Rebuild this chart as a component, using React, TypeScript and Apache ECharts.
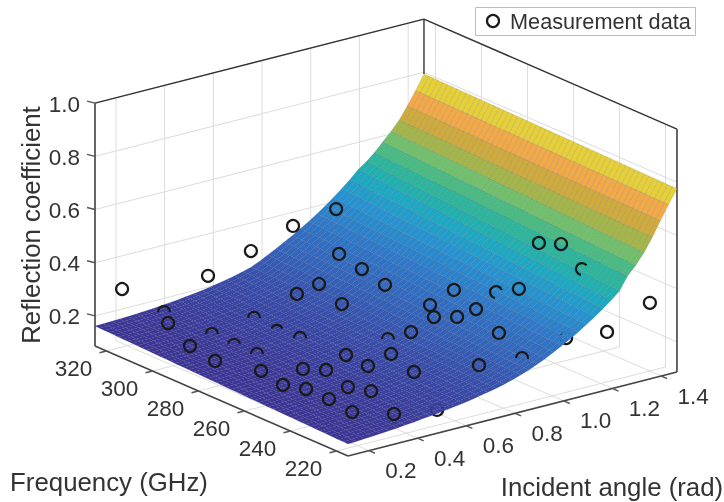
import React, { useEffect, useRef } from "react";
import * as echarts from "echarts";

const angleTicks = [0.2, 0.4, 0.6, 0.8, 1.0, 1.2, 1.4];
const freqTicks = [220, 240, 260, 280, 300, 320];
const reflTicks = [0.2, 0.4, 0.6, 0.8, 1.0];

const surfaceAngles = [0.114,0.148,0.182,0.215,0.249,0.283,0.317,0.350,0.384,0.418,0.452,0.486,0.519,0.553,0.587,0.621,0.654,0.688,0.722,0.756,0.790,0.823,0.857,0.891,0.925,0.958,0.992,1.026,1.060,1.093,1.127,1.161,1.195,1.229,1.262,1.296,1.330,1.364,1.397,1.431,1.465];
const reflAt215 = [0.132,0.134,0.136,0.138,0.140,0.142,0.145,0.148,0.151,0.155,0.158,0.162,0.166,0.170,0.175,0.180,0.186,0.192,0.199,0.207,0.216,0.226,0.237,0.250,0.264,0.280,0.296,0.314,0.332,0.352,0.373,0.396,0.420,0.447,0.495,0.528,0.568,0.617,0.672,0.725,0.776];
const reflAt325 = [0.162,0.163,0.164,0.165,0.166,0.168,0.170,0.172,0.175,0.178,0.181,0.185,0.189,0.193,0.198,0.204,0.210,0.217,0.225,0.234,0.248,0.263,0.279,0.296,0.313,0.331,0.350,0.371,0.393,0.416,0.441,0.468,0.498,0.520,0.546,0.578,0.610,0.645,0.690,0.740,0.794];

const measAngle = [0.178,0.531,0.707,0.880,1.057,0.880,0.974,0.880,0.798,0.707,0.703,0.350,0.367,0.531,0.625,0.358,0.531,0.449,0.268,0.354,0.531,0.182,0.182,0.354,0.449,0.272,0.178,0.350,0.272,0.367,0.974,1.052,0.958,0.876,0.892,0.876,0.798,0.609,0.781,0.514,0.527,0.432,0.432,0.699,0.876,0.256,0.350,0.527,1.057,1.225,1.401,1.311,1.323,1.225];
const measFreq = [320,320,320,320,320,300,300,280,300,300,280,320,320,300,300,300,280,300,300,280,260,280,260,260,260,260,240,240,240,240,260,240,240,260,260,240,240,240,220,240,240,240,220,220,220,220,220,220,220,220,220,240,260,240];
const measRefl = [0.305,0.272,0.324,0.378,0.400,0.348,0.269,0.307,0.254,0.238,0.276,0.178,0.133,0.189,0.118,0.169,0.189,0.107,0.145,0.170,0.200,0.184,0.222,0.189,0.163,0.148,0.230,0.197,0.170,0.099,0.341,0.402,0.412,0.307,0.258,0.367,0.356,0.343,0.375,0.339,0.280,0.257,0.310,0.273,0.258,0.279,0.171,0.145,0.291,0.275,0.343,0.416,0.436,0.530];

// indices whose markers are partly hidden by the surface: visible arc in degrees
const partlyHidden: Record<number, [number, number]> = {
  11: [180, 360], 13: [180, 360], 14: [205, 335], 15: [180, 360], 16: [175, 365], 17: [190, 350],
  19: [180, 360], 32: [100, 340], 39: [180, 365], 44: [180, 370], 51: [100, 320],
};
const behindSurface = [47, 48];

const colorStops: [number, string][] = [
  [0.13, "#3f2e90"], [0.18, "#3a44a5"], [0.25, "#3560b8"], [0.33, "#2f78c8"], [0.40, "#2594d0"],
  [0.445, "#1ea8c2"], [0.471, "#22b0ae"], [0.502, "#2eb69c"], [0.537, "#4abb82"], [0.571, "#72c06c"],
  [0.61, "#a4b64a"], [0.656, "#cfab3d"], [0.707, "#f2a948"], [0.73, "#e6d03a"], [0.80, "#e6d03a"],
];

const A0 = 0.114, A1 = 1.465, F0 = 215, F1 = 325, Z0 = 0.087, Z1 = 1.0;
const proj = (a: number, f: number, z: number): [number, number] => {
  const u = a - A0, v = f - F0, w = z - Z0;
  return [348 + 243.5 * u - 2.3 * v, 456 - 62.2 * u - v - 266 * w];
};
const hex = (s: string) => [1, 3, 5].map((i) => parseInt(s.slice(i, i + 2), 16));
const colorOf = (z: number) => {
  if (z <= colorStops[0][0]) return colorStops[0][1];
  for (let i = 1; i < colorStops.length; i++) {
    if (z <= colorStops[i][0]) {
      const t = (z - colorStops[i - 1][0]) / (colorStops[i][0] - colorStops[i - 1][0]);
      const a = hex(colorStops[i - 1][1]), b = hex(colorStops[i][1]);
      return `rgb(${a.map((c, k) => Math.round(c + (b[k] - c) * t)).join(",")})`;
    }
  }
  return colorStops[colorStops.length - 1][1];
};

const COLS = 54;
const reflAt = (i: number, f: number) => reflAt215[i] + ((reflAt325[i] - reflAt215[i]) * (f - F0)) / (F1 - F0);

const TEXT = "#333333";
const FONT = '"Liberation Sans", Arial, sans-serif';
const GRID = "#dcdcdc";
const AXIS = "#555555";

export default function App() {
  const ref = useRef<HTMLDivElement>(null);
  useEffect(() => {
    const chart = echarts.init(ref.current!, undefined, { renderer: "svg" });
    const P = (api: any, a: number, f: number, z: number) => api.coord(proj(a, f, z));
    const seg = (p: number[], q: number[], stroke: string, lineWidth: number) => ({
      type: "line", shape: { x1: p[0], y1: p[1], x2: q[0], y2: q[1] }, style: { stroke, lineWidth }, silent: true,
    });
    const label = (x: number, y: number, text: string, size: number, extra: any = {}) => ({
      type: "text", x, y, style: { text, fontSize: size, fontFamily: FONT, fill: TEXT, textAlign: "center", textVerticalAlign: "middle", ...extra }, silent: true,
    });

    const frame = (_: any, api: any) => {
      const ch: any[] = [];
      reflTicks.forEach((z) => {
        ch.push(seg(P(api, A0, F1, z), P(api, A1, F1, z), GRID, 1));
        ch.push(seg(P(api, A1, F1, z), P(api, A1, F0, z), GRID, 1));
      });
      angleTicks.forEach((a) => {
        ch.push(seg(P(api, a, F1, Z0), P(api, a, F1, Z1), GRID, 1));
        ch.push(seg(P(api, a, F0, Z0), P(api, a, F1, Z0), GRID, 1));
      });
      freqTicks.forEach((f) => {
        ch.push(seg(P(api, A1, f, Z0), P(api, A1, f, Z1), GRID, 1));
        ch.push(seg(P(api, A0, f, Z0), P(api, A1, f, Z0), GRID, 1));
      });
      ch.push(seg(P(api, A0, F1, Z1), P(api, A1, F1, Z1), "#333", 1.4));
      ch.push(seg(P(api, A1, F1, Z1), P(api, A1, F0, Z1), "#333", 1.4));
      ch.push(seg(P(api, A1, F1, reflAt325[reflAt325.length - 1]), P(api, A1, F1, Z1), "#333", 1.4));
      ch.push(seg(P(api, A0, F1, Z0), P(api, A0, F1, Z1), AXIS, 1.8));
      ch.push(seg(P(api, A1, F0, Z0), P(api, A1, F0, Z1), AXIS, 1.8));
      ch.push(seg(P(api, A0, F0, Z0), P(api, A0, F1, Z0), "#444", 1.6));
      ch.push(seg(P(api, A0, F0, Z0), P(api, A1, F0, Z0), "#444", 1.6));
      reflTicks.forEach((z) => {
        const p = P(api, A0, F1, z);
        ch.push(seg(p, [p[0] - 8, p[1] - 2], AXIS, 1.4));
      });
      angleTicks.forEach((a) => {
        const p = P(api, a, F0, Z0);
        ch.push(seg(p, [p[0] + 6, p[1] + 2.6], AXIS, 1.4));
      });
      freqTicks.forEach((f) => {
        const p = P(api, A0, f, Z0);
        ch.push(seg(p, [p[0] - 7, p[1] + 1.8], AXIS, 1.4));
      });
      return { type: "group", children: ch };
    };

    const cell = (params: any, api: any) => {
      const i = api.value(0), j = api.value(1);
      const f0 = F0 + ((F1 - F0) * j) / COLS, f1 = F0 + ((F1 - F0) * (j + 1)) / COLS;
      const a0 = surfaceAngles[i], a1 = surfaceAngles[i + 1];
      const pts = [
        P(api, a0, f0, reflAt(i, f0)), P(api, a1, f0, reflAt(i + 1, f0)),
        P(api, a1, f1, reflAt(i + 1, f1)), P(api, a0, f1, reflAt(i, f1)),
      ];
      const mid = (F0 + F1) / 2;
      const zm = (reflAt(i, mid) + reflAt(i + 1, mid)) / 2;
      return {
        type: "polygon", shape: { points: pts }, silent: true,
        style: { fill: colorOf(zm), stroke: "rgba(25,25,60,0.2)", lineWidth: 0.5 },
      };
    };
    const cells: number[][] = [];
    for (let i = 0; i < surfaceAngles.length - 1; i++) for (let j = 0; j < COLS; j++) cells.push([i, j]);

    const marker = (_: any, api: any) => {
      const idx = api.value(3);
      const c = P(api, api.value(0), api.value(1), api.value(2));
      const span = partlyHidden[idx];
      const style = { stroke: "#1a1a1a", lineWidth: 2.2, fill: "none" };
      if (span) {
        return {
          type: "arc", silent: true, style,
          shape: { cx: c[0], cy: c[1], r: 6, startAngle: (span[0] * Math.PI) / 180, endAngle: (span[1] * Math.PI) / 180, clockwise: true },
        };
      }
      return { type: "circle", silent: true, style, shape: { cx: c[0], cy: c[1], r: 6 } };
    };
    const measRows = measAngle.map((a, i) => [a, measFreq[i], measRefl[i], i]);

    const labels = (_: any, api: any) => {
      const ch: any[] = [];
      reflTicks.forEach((z) => {
        const p = P(api, A0, F1, z);
        ch.push(label(p[0] - 15, p[1] + 1, z.toFixed(1), 22.5, { textAlign: "right" }));
      });
      freqTicks.forEach((f) => {
        const p = P(api, A0, f, Z0);
        ch.push(label(p[0] - 33, p[1] + 17, String(f), 22.5));
      });
      angleTicks.forEach((a) => {
        const p = P(api, a, F0, Z0);
        ch.push(label(p[0] + 32, p[1] + 20, a.toFixed(1), 22.5));
      });
      ch.push(label(109, 482, "Frequency (GHz)", 25.8));
      ch.push(label(612, 487, "Incident angle (rad)", 25.8));
      ch.push({ ...label(31, 225, "Reflection coefficient", 25.8), rotation: Math.PI / 2 });
      ch.push({ type: "rect", silent: true, shape: { x: 475.5, y: 7.5, width: 220, height: 28 }, style: { fill: "#fff", stroke: "#bdbdbd", lineWidth: 1 } });
      ch.push({ type: "circle", silent: true, shape: { cx: 493, cy: 21, r: 6 }, style: { stroke: "#1a1a1a", lineWidth: 2.2, fill: "none" } });
      ch.push(label(510, 21, "Measurement data", 21.7, { textAlign: "left" }));
      return { type: "group", children: ch };
    };

    chart.setOption({
      animation: false,
      backgroundColor: "#fff",
      grid: { left: 0, right: 0, top: 0, bottom: 0 },
      xAxis: { type: "value", min: 0, max: 724, show: false },
      yAxis: { type: "value", min: 0, max: 502, inverse: true, show: false },
      series: [
        { type: "custom", coordinateSystem: "cartesian2d", renderItem: frame, data: [[0, 0]], clip: false, z: 1 },
        { type: "custom", coordinateSystem: "cartesian2d", renderItem: marker, data: measRows.filter((r) => behindSurface.includes(r[3])), encode: { x: 0, y: 2 }, clip: false, z: 2 },
        { type: "custom", coordinateSystem: "cartesian2d", renderItem: cell, data: cells, clip: false, z: 3 },
        { type: "custom", coordinateSystem: "cartesian2d", renderItem: marker, data: measRows.filter((r) => !behindSurface.includes(r[3])), encode: { x: 0, y: 2 }, clip: false, z: 4 },
        { type: "custom", coordinateSystem: "cartesian2d", renderItem: labels, data: [[0, 0]], clip: false, z: 5 },
      ],
    });
    return () => chart.dispose();
  }, []);
  return <div ref={ref} style={{ position: "absolute", left: 0, top: 0, width: 724, height: 502, filter: "blur(0.5px)" }} />;
}
